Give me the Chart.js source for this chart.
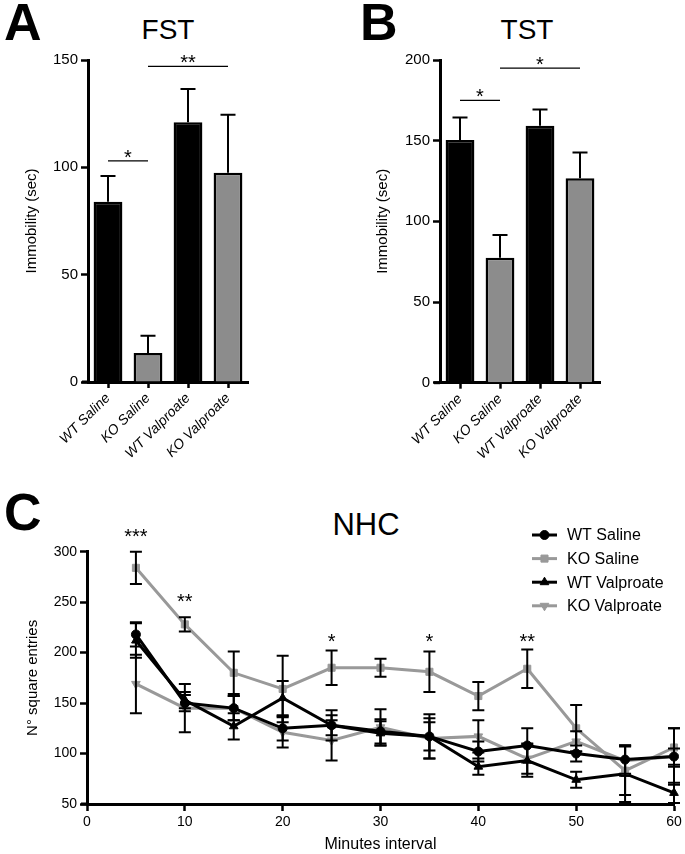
<!DOCTYPE html>
<html><head><meta charset="utf-8">
<script src="https://cdn.jsdelivr.net/npm/chart.js@4.4.1/dist/chart.umd.min.js"></script>
<style>
html,body{margin:0;padding:0;background:#fff;width:685px;height:854px;overflow:hidden;font-family:"Liberation Sans",Arial,Helvetica,sans-serif;}
canvas{position:absolute;display:block;}
.letter{position:absolute;font-weight:bold;font-size:52px;line-height:1;color:#000;}
.title{position:absolute;line-height:1;color:#000;transform:translateX(-50%);white-space:nowrap;}
</style></head><body>
<div class="letter" style="left:4px;top:-4px">A</div>
<div class="letter" style="left:360px;top:-4px">B</div>
<div class="letter" style="left:4px;top:486px">C</div>
<div class="title" style="left:168px;top:16px;font-size:28px">FST</div>
<div class="title" style="left:527px;top:16px;font-size:28px">TST</div>
<div class="title" style="left:366px;top:509px;font-size:31px">NHC</div>
<canvas id="cA" width="340" height="470" style="left:0;top:0"></canvas>
<canvas id="cB" width="345" height="470" style="left:340px;top:0"></canvas>
<canvas id="cC" width="685" height="384" style="left:0;top:470px"></canvas>
<script>
// ---------- data ----------
const groups = ['WT Saline', 'KO Saline', 'WT Valproate', 'KO Valproate'];
const barColors = ['#000000', '#8c8c8c', '#000000', '#8c8c8c'];
const fstMeans = [84, 13.5, 121, 97.5];
const fstErrors = [12, 8, 15.5, 27];
const fstTicks = [0, 50, 100, 150];
const fstSigFrom = [0, 1];
const fstSigTo = [1, 3];
const fstSigY = [103, 147];
const fstSigLabel = ['*', '**'];

const tstMeans = [150.4, 77.5, 159.3, 126.7];
const tstErrors = [14, 14, 10, 16];
const tstTicks = [0, 50, 100, 150, 200];
const tstSigFrom = [0, 1];
const tstSigTo = [1, 3];
const tstSigY = [175, 195];
const tstSigLabel = ['*', '*'];

const nhcMinutes = [5, 10, 15, 20, 25, 30, 35, 40, 45, 50, 55, 60];
const wtSalineMean = [218, 150, 145, 125, 128, 122, 117, 102, 108, 100, 94, 97];
const wtSalineErr  = [12, 8, 12, 12, 10, 12, 14, 10, 17, 8, 14, 8];
const koSalineMean = [284, 228, 180, 164, 185, 185, 181, 157, 184, 125, 83, 106];
const koSalineErr  = [16, 7, 21, 33, 17, 9, 20, 14, 19, 23, 24, 19];
const wtValpMean   = [212, 153, 127, 155, 128, 120, 117, 87, 93, 74, 80, 61];
const wtValpErr    = [17, 8, 13, 17, 15, 12, 22, 8, 16, 8, 28, 10];
const koValpMean   = [169, 145, 145, 121, 113, 126, 115, 117, 95, 112, 93, 97];
const koValpErr    = [29, 24, 12, 15, 20, 18, 20, 16, 15, 10, 15, 28];
const nhcSigX = [5, 10, 25, 35, 45];
const nhcSigY = [308.5, 244, 205, 205, 205];
const nhcSigLabel = ['***', '**', '*', '*', '**'];

// ---------- style ----------
const FONT = "'Liberation Sans', Arial, Helvetica, sans-serif";
Chart.defaults.font.family = FONT;
Chart.defaults.color = '#000';
const GRAY = '#999999';

// small stub of the x axis line to the left of the y axis (as in the original)
function axisStub(chart) {
  const ctx = chart.ctx, a = chart.chartArea;
  ctx.save();
  ctx.strokeStyle = '#000';
  ctx.lineWidth = 3;
  ctx.beginPath();
  ctx.moveTo(a.left - 6, a.bottom);
  ctx.lineTo(a.left, a.bottom);
  ctx.stroke();
  ctx.restore();
}

const barExtras = {
  id: 'barExtras',
  afterDatasetsDraw(chart, args, o) {
    const ctx = chart.ctx, y = chart.scales.y;
    const meta = chart.getDatasetMeta(0);
    ctx.save();
    ctx.strokeStyle = '#000';
    ctx.lineWidth = 2;
    o.means.forEach((m, i) => {
      const px = meta.data[i].x;
      const y0 = y.getPixelForValue(m);
      const y1 = y.getPixelForValue(m + o.errors[i]);
      ctx.beginPath();
      ctx.moveTo(px, y0); ctx.lineTo(px, y1);
      ctx.moveTo(px - 7.5, y1); ctx.lineTo(px + 7.5, y1);
      ctx.stroke();
    });
    ctx.lineWidth = 1.3;
    ctx.font = '20px ' + FONT;
    ctx.textAlign = 'center';
    ctx.textBaseline = 'alphabetic';
    ctx.fillStyle = '#000';
    o.sigFrom.forEach((f, k) => {
      const xa = meta.data[f].x, xb = meta.data[o.sigTo[k]].x;
      const py = y.getPixelForValue(o.sigY[k]);
      ctx.beginPath(); ctx.moveTo(xa, py); ctx.lineTo(xb, py); ctx.stroke();
      ctx.fillText(o.sigLabel[k], (xa + xb) / 2, py + 3);
    });
    ctx.restore();
    axisStub(chart);
  }
};

function barChart(id, means, errors, ticks, sig, geo) {
  return new Chart(document.getElementById(id), {
    type: 'bar',
    data: {
      labels: groups,
      datasets: [{
        data: means,
        backgroundColor: barColors,
        borderColor: '#000',
        borderWidth: 2.5,
        barPercentage: 0.72,
        categoryPercentage: 1
      }]
    },
    options: {
      responsive: false,
      animation: false,
      layout: { padding: { top: 60, left: geo.padLeft, right: geo.padRight, bottom: 0 } },
      plugins: {
        legend: { display: false },
        tooltip: { enabled: false },
        barExtras: { means, errors, sigFrom: sig[0], sigTo: sig[1], sigY: sig[2], sigLabel: sig[3] }
      },
      scales: {
        x: {
          afterFit(s) { s.height = geo.xHeight; },
          grid: { display: true, drawOnChartArea: false, drawTicks: true, offset: false, tickLength: 6, tickWidth: 2.5, tickColor: '#000', color: '#000' },
          border: { display: true, color: '#000', width: 3 },
          ticks: { autoSkip: false, minRotation: 45, maxRotation: 45, padding: 2, font: { size: 14, style: 'italic' }, color: '#000' }
        },
        y: {
          min: 0, max: ticks[ticks.length - 1],
          afterFit(s) { s.width = geo.yWidth; },
          afterBuildTicks(s) { s.ticks = ticks.map(v => ({ value: v })); },
          grid: { display: true, drawOnChartArea: false, drawTicks: true, tickLength: 7, tickWidth: 2.5, tickColor: '#000', color: '#000' },
          border: { display: true, color: '#000', width: 3 },
          ticks: { font: { size: 15 }, color: '#000', padding: 3 },
          title: { display: true, text: 'Immobility (sec)', font: { size: 15 }, color: '#000', padding: { top: 4, bottom: 4 } }
        }
      }
    },
    plugins: [barExtras]
  });
}

barChart('cA', fstMeans, fstErrors, fstTicks, [fstSigFrom, fstSigTo, fstSigY, fstSigLabel],
  { padLeft: 19, yWidth: 69, padRight: 92, xHeight: 88 });
barChart('cB', tstMeans, tstErrors, tstTicks, [tstSigFrom, tstSigTo, tstSigY, tstSigLabel],
  { padLeft: 30, yWidth: 70, padRight: 85, xHeight: 87.3 });

// ---------- NHC line chart ----------
const series = [
  { label: 'WT Saline', mean: wtSalineMean, err: wtSalineErr, color: '#000', style: 'circle', radius: 4.5, rot: 0 },
  { label: 'KO Saline', mean: koSalineMean, err: koSalineErr, color: GRAY, style: 'rect', radius: 5, rot: 0 },
  { label: 'WT Valproate', mean: wtValpMean, err: wtValpErr, color: '#000', style: 'triangle', radius: 5, rot: 0 },
  { label: 'KO Valproate', mean: koValpMean, err: koValpErr, color: GRAY, style: 'triangle', radius: 5, rot: 180 }
];

const nhcExtras = {
  id: 'nhcExtras',
  afterDatasetsDraw(chart) {
    const ctx = chart.ctx, xs = chart.scales.x, ys = chart.scales.y;
    ctx.save();
    ctx.strokeStyle = '#000';
    ctx.lineWidth = 2;
    series.forEach(s => {
      s.mean.forEach((m, i) => {
        const px = xs.getPixelForValue(nhcMinutes[i]);
        const a = ys.getPixelForValue(m - s.err[i]);
        const b = ys.getPixelForValue(m + s.err[i]);
        ctx.beginPath();
        ctx.moveTo(px, a); ctx.lineTo(px, b);
        ctx.moveTo(px - 6, a); ctx.lineTo(px + 6, a);
        ctx.moveTo(px - 6, b); ctx.lineTo(px + 6, b);
        ctx.stroke();
      });
    });
    ctx.fillStyle = '#000';
    ctx.font = '20px ' + FONT;
    ctx.textAlign = 'center';
    ctx.textBaseline = 'alphabetic';
    nhcSigX.forEach((sx, k) => {
      ctx.fillText(nhcSigLabel[k], xs.getPixelForValue(sx), ys.getPixelForValue(nhcSigY[k]));
    });
    ctx.restore();
    axisStub(chart);
  },
  afterDraw(chart) {
    const ctx = chart.ctx;
    ctx.save();
    chart.data.datasets.forEach((ds, i) => {
      const yy = 65 + i * 23.6;
      ctx.strokeStyle = ds.borderColor;
      ctx.lineWidth = 3;
      ctx.beginPath(); ctx.moveTo(532, yy); ctx.lineTo(557, yy); ctx.stroke();
      ctx.fillStyle = ds.pointBackgroundColor;
      ctx.strokeStyle = ds.pointBackgroundColor;
      ctx.lineWidth = 1;
      Chart.helpers.drawPoint(ctx, { pointStyle: ds.pointStyle, radius: ds.pointRadius, rotation: ds.pointRotation, borderWidth: 1 }, 544.5, yy);
      ctx.fillStyle = '#000';
      ctx.font = '16px ' + FONT;
      ctx.textAlign = 'left';
      ctx.textBaseline = 'middle';
      ctx.fillText(ds.label, 567, yy + 1);
    });
    ctx.restore();
  }
};

new Chart(document.getElementById('cC'), {
  type: 'line',
  data: {
    datasets: series.map(s => ({
      label: s.label,
      data: nhcMinutes.map((m, i) => ({ x: m, y: s.mean[i] })),
      borderColor: s.color,
      backgroundColor: s.color,
      pointBackgroundColor: s.color,
      pointBorderColor: s.color,
      pointStyle: s.style,
      pointRadius: s.radius,
      pointRotation: s.rot,
      pointBorderWidth: 1,
      borderWidth: 3,
      tension: 0,
      fill: false,
      clip: false
    }))
  },
  options: {
    responsive: false,
    animation: false,
    layout: { padding: { top: 81.7, left: 19.5, right: 11, bottom: 0 } },
    plugins: { legend: { display: false }, tooltip: { enabled: false } },
    scales: {
      x: {
        type: 'linear', min: 0, max: 60,
        afterFit(s) { s.height = 50; },
        ticks: { stepSize: 10, font: { size: 14 }, color: '#000', padding: 3 },
        grid: { display: true, drawOnChartArea: false, drawTicks: true, tickLength: 7, tickWidth: 2.5, tickColor: '#000', color: '#000' },
        border: { display: true, color: '#000', width: 3 },
        title: { display: true, text: 'Minutes interval', font: { size: 16 }, color: '#000', padding: { top: 0, bottom: 0 } }
      },
      y: {
        min: 50, max: 300,
        afterFit(s) { s.width = 67.5; },
        ticks: { stepSize: 50, font: { size: 14 }, color: '#000', padding: 3 },
        grid: { display: true, drawOnChartArea: false, drawTicks: true, tickLength: 7, tickWidth: 2.5, tickColor: '#000', color: '#000' },
        border: { display: true, color: '#000', width: 3 },
        title: { display: true, text: 'N° square entries', font: { size: 15 }, color: '#000', padding: { top: 4, bottom: 4 } }
      }
    }
  },
  plugins: [nhcExtras]
});
</script>
</body></html>
